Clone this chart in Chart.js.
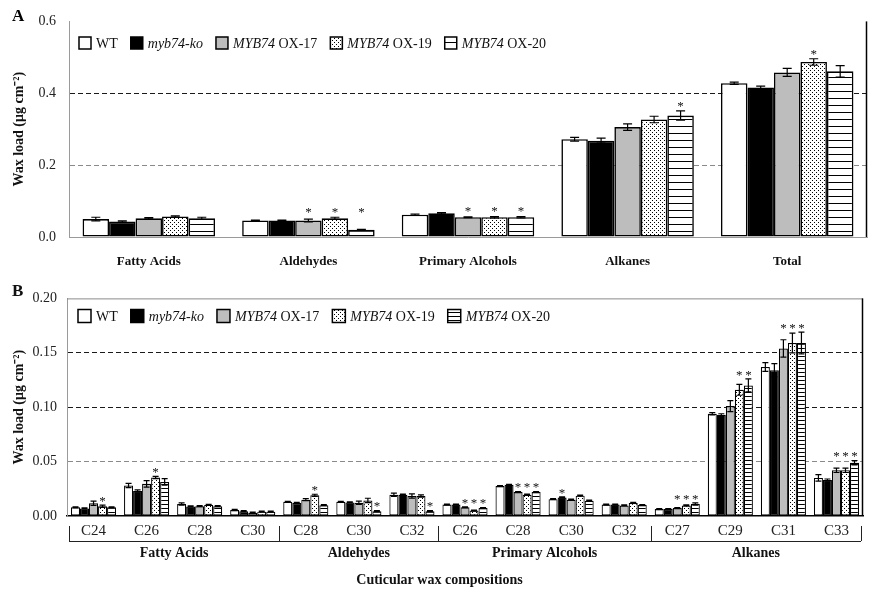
<!DOCTYPE html>
<html>
<head>
<meta charset="utf-8">
<script src="https://cdn.jsdelivr.net/npm/chart.js@4.4.1/dist/chart.umd.min.js"></script>
<style>
  body { margin: 0; background: #fff; }
  #wrapA { position: absolute; left: 0; top: 0; width: 873px; height: 280px; }
  #wrapB { position: absolute; left: 0; top: 280px; width: 873px; height: 321px; }
</style>
</head>
<body>
<div id="wrapA"><canvas id="chartA"></canvas></div>
<div id="wrapB"><canvas id="chartB"></canvas></div>
<script>
const seriesNames = ["WT", "myb74-ko", "MYB74 OX-17", "MYB74 OX-19", "MYB74 OX-20"];

// panel A - wax classes
const classesA = ["Fatty Acids", "Aldehydes", "Primary Alcohols", "Alkanes", "Total"];
const wtA   = [0.050, 0.046, 0.062, 0.272, 0.428];
const koA   = [0.043, 0.046, 0.066, 0.268, 0.416];
const ox17A = [0.052, 0.046, 0.055, 0.306, 0.458];
const ox19A = [0.057, 0.052, 0.055, 0.327, 0.487];
const ox20A = [0.052, 0.020, 0.055, 0.338, 0.461];
const wtErrA   = [0.005, 0.001, 0.002, 0.005, 0.003];
const koErrA   = [0.002, 0.001, 0.002, 0.007, 0.004];
const ox17ErrA = [0.002, 0.004, 0.001, 0.009, 0.011];
const ox19ErrA = [0.002, 0.003, 0.002, 0.009, 0.009];
const ox20ErrA = [0.003, 0.001, 0.002, 0.013, 0.016];
const wtStarA   = [0, 0, 0, 0, 0];
const koStarA   = [0, 0, 0, 0, 0];
const ox17StarA = [0, 1, 1, 0, 0];
const ox19StarA = [0, 1, 1, 0, 1];
const ox20StarA = [0, 1, 1, 1, 0];
const ticksA = ["0.0", "0.2", "0.4", "0.6"];

// panel B - chain lengths
const chainsB = ["C24", "C26", "C28", "C30", "C28", "C30", "C32", "C26", "C28", "C30", "C32", "C27", "C29", "C31", "C33"];
const groupNamesB = ["Fatty Acids", "Aldehydes", "Primary Alcohols", "Alkanes"];
const groupSizesB = [4, 3, 4, 4];
const wtB   = [0.008, 0.028, 0.011, 0.0055, 0.013, 0.013, 0.0196, 0.0105, 0.0275, 0.0155, 0.0105, 0.0064, 0.094, 0.137, 0.035];
const koB   = [0.007, 0.023, 0.0088, 0.0044, 0.012, 0.0125, 0.0196, 0.0105, 0.0287, 0.017, 0.0105, 0.0064, 0.093, 0.134, 0.033];
const ox17B = [0.0117, 0.0296, 0.009, 0.003, 0.015, 0.0122, 0.0184, 0.008, 0.022, 0.015, 0.0097, 0.0073, 0.101, 0.154, 0.042];
const ox19B = [0.009, 0.0354, 0.0102, 0.004, 0.019, 0.0143, 0.0184, 0.005, 0.0196, 0.0187, 0.012, 0.0097, 0.116, 0.159, 0.042];
const ox20B = [0.008, 0.0313, 0.009, 0.004, 0.0099, 0.0044, 0.0044, 0.0073, 0.022, 0.014, 0.010, 0.011, 0.120, 0.159, 0.049];
const wtErrB   = [0.0005, 0.002, 0.001, 0.0005, 0.0005, 0.0005, 0.0015, 0.0005, 0.0005, 0.0005, 0.0005, 0.0005, 0.001, 0.004, 0.003];
const koErrB   = [0.0005, 0.001, 0.0005, 0.0005, 0.0005, 0.0005, 0.0005, 0.0005, 0.0005, 0.0005, 0.0005, 0.0005, 0.001, 0.006, 0.001];
const ox17ErrB = [0.002, 0.003, 0.0005, 0.0005, 0.001, 0.0015, 0.002, 0.0005, 0.0005, 0.0005, 0.0005, 0.0005, 0.005, 0.008, 0.002];
const ox19ErrB = [0.001, 0.001, 0.0005, 0.0005, 0.001, 0.002, 0.001, 0.0005, 0.0005, 0.0005, 0.0005, 0.0005, 0.005, 0.009, 0.002];
const ox20ErrB = [0.0005, 0.003, 0.0005, 0.0005, 0.0005, 0.0005, 0.0005, 0.0005, 0.0005, 0.0005, 0.0005, 0.001, 0.006, 0.01, 0.002];
const wtStarB   = [0, 0, 0, 0, 0, 0, 0, 0, 0, 0, 0, 0, 0, 0, 0];
const koStarB   = [0, 0, 0, 0, 0, 0, 0, 0, 0, 1, 0, 0, 0, 0, 0];
const ox17StarB = [0, 0, 0, 0, 0, 0, 0, 1, 1, 0, 0, 1, 0, 1, 1];
const ox19StarB = [1, 1, 0, 0, 1, 0, 0, 1, 1, 0, 0, 1, 1, 1, 1];
const ox20StarB = [0, 0, 0, 0, 0, 1, 1, 1, 1, 0, 0, 1, 1, 1, 1];
const ticksB = ["0.00", "0.05", "0.10", "0.15", "0.20"];

const serif = '"Liberation Serif", "Times New Roman", serif';

// fills: white, black, grey, dotted, horizontal stripes
function makePattern(kind, gap) {
  const c = document.createElement("canvas");
  const p = c.getContext("2d");
  if (kind == "dots") {
    c.width = 4; c.height = 4;
    p.fillStyle = "#fff"; p.fillRect(0, 0, 4, 4);
    p.fillStyle = "#000";
    p.fillRect(0, 0, 1, 1);
    p.fillRect(2, 2, 1, 1);
  } else {
    c.width = 4; c.height = gap;
    p.fillStyle = "#fff"; p.fillRect(0, 0, 4, gap);
    p.fillStyle = "#000";
    p.fillRect(0, 0, 4, 1);
  }
  return p.createPattern(c, "repeat");
}

function fillsFor(gap) {
  return ["#ffffff", "#000000", "#bdbdbd", makePattern("dots"), makePattern("lines", gap)];
}

function makeSets(values, errs, stars, gap, bw, catPct) {
  const fills = fillsFor(gap);
  return values.map((v, i) => ({
    label: seriesNames[i],
    data: v,
    errors: errs[i],
    stars: stars[i],
    backgroundColor: fills[i],
    borderColor: "#000",
    borderWidth: bw,
    borderSkipped: false,
    categoryPercentage: catPct,
    barPercentage: 1
  }));
}

function drawLegend(ctx, x, y, box, fills, size) {
  ctx.save();
  ctx.textBaseline = "middle";
  ctx.textAlign = "left";
  seriesNames.forEach((name, i) => {
    ctx.fillStyle = fills[i];
    ctx.fillRect(x, y - box / 2, box, box);
    ctx.strokeStyle = "#000";
    ctx.lineWidth = 1.5;
    ctx.strokeRect(x, y - box / 2, box, box);
    x += box + 5;
    let parts;
    if (name.startsWith("MYB74")) parts = [["MYB74", true], [name.slice(5), false]];
    else parts = [[name, name == "myb74-ko"]];
    ctx.fillStyle = "#111";
    parts.forEach(([t, it]) => {
      ctx.font = (it ? "italic " : "") + size + "px " + serif;
      ctx.fillText(t, x, y + 1);
      x += ctx.measureText(t).width;
    });
    x += 13;
  });
  ctx.restore();
}

function yAxis(max, step, labels, width, pad) {
  return {
    min: 0,
    max: max,
    ticks: {
      stepSize: step,
      padding: pad,
      color: "#222",
      font: { family: serif, size: 14 },
      callback: (v, i) => labels[i]
    },
    grid: {
      drawTicks: false,
      lineWidth: 1,
      color: (c) => {
        const v = c.tick ? c.tick.value : 0;
        if (v < 1e-9 || v > max - 1e-9) return "rgba(0,0,0,0)";
        return Math.abs(v - step) < 1e-9 ? "#8a8a8a" : "#1a1a1a";
      }
    },
    border: { color: "#9a9a9a", width: 1, dash: [5, 3] },
    title: {
      display: true,
      text: "Wax load (\u03bcg cm\u207b\u00b2)",
      color: "#111",
      font: { family: serif, size: 14, weight: "bold" },
      padding: { top: 11, bottom: 0 }
    },
    afterFit: (s) => { s.width = width; }
  };
}

// error bars + significance stars
const errorBars = {
  id: "errorBars",
  afterDatasetsDraw(chart, args, opts) {
    const ctx = chart.ctx;
    const y = chart.scales.y;
    const starTop = [];
    ctx.save();
    ctx.strokeStyle = "#000";
    ctx.lineWidth = 1.2;
    chart.data.datasets.forEach((ds, di) => {
      chart.getDatasetMeta(di).data.forEach((bar, i) => {
        const v = ds.data[i], e = ds.errors[i];
        const yt = y.getPixelForValue(v + e);
        const yb = y.getPixelForValue(Math.max(0, v - e));
        ctx.beginPath();
        ctx.moveTo(bar.x, yt); ctx.lineTo(bar.x, yb);
        ctx.moveTo(bar.x - opts.cap / 2, yt); ctx.lineTo(bar.x + opts.cap / 2, yt);
        ctx.moveTo(bar.x - opts.cap / 2, yb); ctx.lineTo(bar.x + opts.cap / 2, yb);
        ctx.stroke();
        if (ds.stars[i]) starTop[i] = Math.min(starTop[i] === undefined ? 1e9 : starTop[i], yt);
      });
    });
    ctx.fillStyle = "#111";
    ctx.font = opts.starSize + "px " + serif;
    ctx.textAlign = "center";
    ctx.textBaseline = "bottom";
    chart.data.datasets.forEach((ds, di) => {
      chart.getDatasetMeta(di).data.forEach((bar, i) => {
        if (ds.stars[i]) ctx.fillText("*", bar.x, starTop[i] - opts.starGap + opts.starSize * 0.45);
      });
    });
    ctx.restore();
  }
};

const decorA = {
  id: "decorA",
  afterDraw(chart) {
    const ctx = chart.ctx, a = chart.chartArea;
    ctx.save();
    ctx.strokeStyle = "#000";
    ctx.lineWidth = 1.5;
    ctx.beginPath();
    ctx.moveTo(a.right - 0.5, a.top);
    ctx.lineTo(a.right - 0.5, a.bottom);
    ctx.stroke();
    ctx.fillStyle = "#000";
    ctx.font = "bold 17px " + serif;
    ctx.textBaseline = "middle";
    ctx.fillText("A", 12, 17);
    ctx.restore();
    drawLegend(ctx, 79, 43, 12, fillsFor(7), 14);
  }
};

const decorB = {
  id: "decorB",
  afterDraw(chart) {
    const ctx = chart.ctx, a = chart.chartArea, x = chart.scales.x;
    ctx.save();
    ctx.lineWidth = 1;
    ctx.strokeStyle = "#8a8a8a";
    ctx.beginPath();
    ctx.moveTo(a.left, a.top + 0.5); ctx.lineTo(a.right, a.top + 0.5);
    ctx.stroke();
    ctx.strokeStyle = "#000";
    ctx.lineWidth = 1.5;
    ctx.beginPath();
    ctx.moveTo(a.right - 0.5, a.top); ctx.lineTo(a.right - 0.5, a.bottom);
    ctx.stroke();

    // group separators, line and labels under the chain lengths
    const lineY = a.bottom + 25;
    const edges = [a.left + 2];
    let k = 0;
    groupSizesB.forEach((n) => {
      k += n;
      if (k < chainsB.length) edges.push((x.getPixelForValue(k - 1) + x.getPixelForValue(k)) / 2);
    });
    edges.push(a.right - 2);
    ctx.strokeStyle = "#222";
    ctx.lineWidth = 1;
    ctx.beginPath();
    edges.forEach((e) => { ctx.moveTo(Math.round(e) + 0.5, a.bottom + 10); ctx.lineTo(Math.round(e) + 0.5, lineY); });
    ctx.moveTo(edges[0], lineY + 0.5); ctx.lineTo(edges[edges.length - 1], lineY + 0.5);
    ctx.stroke();

    ctx.fillStyle = "#111";
    ctx.textAlign = "center";
    ctx.textBaseline = "middle";
    ctx.font = "bold 14px " + serif;
    groupNamesB.forEach((g, i) => {
      ctx.fillText(g, (edges[i] + edges[i + 1]) / 2, a.bottom + 37);
    });
    ctx.fillText("Cuticular wax compositions", chart.width / 2 + 3, a.bottom + 64);

    ctx.font = "bold 17px " + serif;
    ctx.textAlign = "left";
    ctx.fillText("B", 12, 12);
    ctx.restore();
    drawLegend(ctx, 78, 36, 13, fillsFor(4), 14);
  }
};

new Chart(document.getElementById("chartA"), {
  type: "bar",
  data: {
    labels: classesA,
    datasets: makeSets(
      [wtA, koA, ox17A, ox19A, ox20A],
      [wtErrA, koErrA, ox17ErrA, ox19ErrA, ox20ErrA],
      [wtStarA, koStarA, ox17StarA, ox19StarA, ox20StarA],
      7, 1.6, 0.83)
  },
  options: {
    responsive: true,
    maintainAspectRatio: false,
    animation: false,
    layout: { padding: { top: 16, right: 6, left: 0, bottom: 0 } },
    plugins: {
      legend: { display: false },
      tooltip: { enabled: false },
      errorBars: { cap: 9, starSize: 13, starGap: 4 }
    },
    scales: {
      x: {
        grid: { display: false, drawTicks: false },
        border: { color: "#9a9a9a" },
        ticks: { padding: 17, color: "#111", font: { family: serif, size: 13, weight: "bold" } },
        afterFit: (s) => { s.height = 43; }
      },
      y: yAxis(0.6, 0.2, ticksA, 69, 13)
    }
  },
  plugins: [errorBars, decorA]
});

new Chart(document.getElementById("chartB"), {
  type: "bar",
  data: {
    labels: chainsB,
    datasets: makeSets(
      [wtB, koB, ox17B, ox19B, ox20B],
      [wtErrB, koErrB, ox17ErrB, ox19ErrB, ox20ErrB],
      [wtStarB, koStarB, ox17StarB, ox19StarB, ox20StarB],
      4, 1.2, 0.85)
  },
  options: {
    responsive: true,
    maintainAspectRatio: false,
    animation: false,
    layout: { padding: { top: 8, right: 10, left: 0, bottom: 0 } },
    plugins: {
      legend: { display: false },
      tooltip: { enabled: false },
      errorBars: { cap: 6, starSize: 13, starGap: 3 }
    },
    scales: {
      x: {
        grid: { display: false, drawTicks: false },
        border: { color: "#000", width: 1.5 },
        ticks: { padding: 6, color: "#222", font: { family: serif, size: 15 } },
        afterFit: (s) => { s.height = 85; }
      },
      y: yAxis(0.2, 0.05, ticksB, 67, 10)
    }
  },
  plugins: [errorBars, decorB]
});
</script>
</body>
</html>
